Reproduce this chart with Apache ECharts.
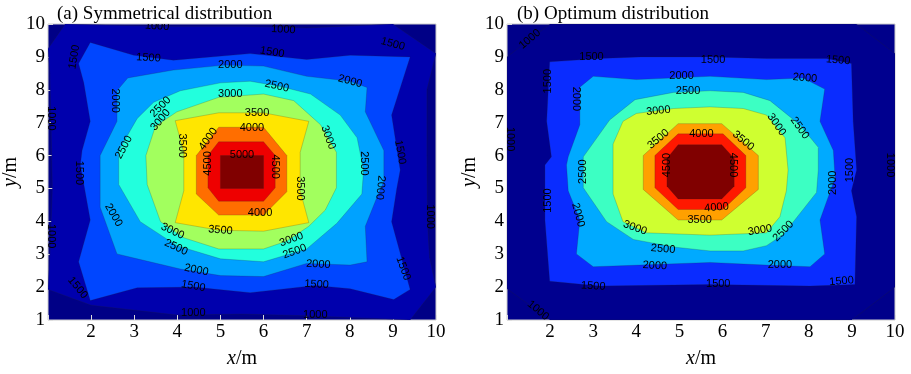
<!DOCTYPE html>
<html>
<head>
<meta charset="utf-8">
<script src="https://cdn.jsdelivr.net/npm/echarts@6/dist/echarts.min.js"></script>
<style>
  html, body { margin: 0; padding: 0; background: #fff; }
  #chart { width: 911px; height: 374px; }
</style>
</head>
<body>
<div id="chart"></div>
<script>
// contour levels shared by both panels
const levels = [1000, 1500, 2000, 2500, 3000, 3500, 4000, 4500, 5000]
const axisTicks = [1, 2, 3, 4, 5, 6, 7, 8, 9, 10]

// (a) symmetrical distribution: closed contour outlines, [x/m, y/m]
const symC1000 = [[1.0, 9.25], [1.4, 10], [3.5, 9.93], [5.5, 9.93], [7.0, 9.88], [9.0, 10], [10, 9.1], [9.79, 8.0], [9.79, 6.0], [9.8, 4.0], [9.85, 2.9], [10, 2.0], [9.4, 1.0], [7.0, 1.13], [5.5, 1.18], [4.0, 1.15], [2.0, 1.45], [1.0, 1.93], [1.06, 3.5], [1.1, 5.0], [1.07, 7.0], [1.04, 8.5]]
const symC1500 = [[1.98, 9.44], [2.99, 9.05], [3.91, 8.9], [5.69, 9.1], [7.0, 8.92], [8.01, 9.05], [9.4, 9.0], [8.97, 7.23], [9.17, 5.56], [9.09, 5.0], [8.97, 3.99], [9.4, 1.93], [9.02, 1.62], [8.01, 1.95], [7.2, 2.05], [5.69, 1.83], [4.4, 2.0], [3.07, 1.98], [1.98, 1.59], [1.71, 2.77], [1.98, 4.04], [1.75, 5.71], [1.79, 6.15], [1.98, 7.04], [1.83, 8.21], [1.71, 8.8]]
const symC2000 = [[2.85, 8.36], [3.91, 8.6], [5.1, 8.75], [6.0, 8.72], [7.0, 8.41], [8.01, 8.26], [8.4, 8.07], [8.36, 7.33], [8.79, 6.15], [8.79, 5.2], [8.63, 4.73], [8.36, 3.85], [8.4, 2.77], [8.01, 2.67], [7.0, 2.72], [6.0, 2.32], [5.0, 2.35], [4.07, 2.55], [3.07, 2.86], [2.6, 3.01], [2.21, 4.43], [2.21, 6.0], [2.6, 7.04], [2.6, 7.97]]
const symC2500 = [[2.64, 6.15], [3.07, 7.13], [3.45, 7.62], [4.07, 7.97], [5.0, 8.21], [5.69, 8.26], [6.4, 8.1], [7.09, 7.87], [7.78, 7.23], [8.17, 6.54], [8.32, 5.56], [8.28, 4.83], [7.7, 3.94], [7.0, 3.16], [6.0, 2.77], [5.0, 2.86], [3.99, 3.26], [3.14, 3.99], [2.64, 5.12]]
const symC3000 = [[3.27, 6.0], [3.49, 6.89], [3.99, 7.33], [4.96, 7.77], [6.0, 7.87], [6.7, 7.67], [7.32, 6.94], [7.69, 6.1], [7.69, 5.02], [7.43, 4.34], [7.05, 3.85], [6.54, 3.4], [6.0, 3.16], [4.96, 3.16], [4.15, 3.5], [3.61, 3.99], [3.3, 5.12]]
const symC3500 = [[3.95, 7.06], [4.96, 7.3], [6.0, 7.3], [7.05, 7.04], [6.85, 6.1], [6.85, 4.93], [7.05, 3.96], [6.0, 3.7], [4.96, 3.73], [3.95, 3.96], [4.15, 4.93], [4.15, 6.1]]
const symC4000 = [[4.96, 6.86], [6.0, 6.86], [6.54, 6.0], [6.54, 4.9], [6.0, 4.19], [4.96, 4.19], [4.44, 4.83], [4.44, 6.0]]
const symC4500 = [[4.96, 6.42], [6.0, 6.42], [6.27, 6.0], [6.27, 5.02], [6.0, 4.61], [4.96, 4.61], [4.71, 5.02], [4.71, 6.0]]
const symC5000 = [[5.0, 5.0], [6.0, 5.0], [6.0, 6.0], [5.0, 6.0]]

// (b) optimum distribution
const optC1000 = [[1.0, 9.0], [2.0, 10], [9.1, 10], [10, 9.1], [10, 2.0], [9.0, 1.0], [2.0, 1.0], [1.0, 1.95]]
const optC1500 = [[1.99, 8.85], [3.15, 8.95], [4.08, 9.0], [5.71, 9.0], [7.02, 8.95], [8.41, 8.95], [8.99, 8.8], [9.03, 7.04], [9.11, 5.56], [8.99, 4.93], [9.11, 4.14], [9.07, 2.08], [8.03, 2.03], [5.71, 2.08], [3.15, 2.03], [1.99, 2.18], [1.88, 4.04], [1.88, 5.71], [2.03, 5.96], [1.92, 7.04]]
const optC2000 = [[2.69, 8.08], [3.0, 8.41], [4.0, 8.31], [5.71, 8.41], [7.02, 8.31], [7.87, 8.36], [8.37, 8.02], [8.26, 7.04], [8.57, 6.15], [8.61, 5.32], [8.26, 4.04], [8.37, 3.01], [8.03, 2.62], [7.0, 2.67], [5.71, 2.75], [4.08, 2.67], [3.0, 2.62], [2.61, 3.01], [2.69, 4.04], [2.42, 4.93], [2.38, 5.71], [2.42, 5.96], [2.69, 6.94]]
const optC2500 = [[2.77, 5.96], [3.38, 7.08], [3.97, 7.7], [4.86, 7.92], [5.71, 7.97], [6.48, 7.92], [7.1, 7.67], [7.79, 6.94], [8.22, 6.25], [8.22, 5.56], [8.18, 4.88], [7.41, 3.6], [7.02, 3.26], [6.48, 3.1], [5.71, 3.1], [4.86, 3.22], [3.93, 3.45], [3.31, 3.99], [2.77, 5.02]]
const optC3000 = [[3.46, 6.35], [3.69, 7.04], [4.0, 7.28], [4.86, 7.43], [5.71, 7.48], [6.48, 7.43], [7.02, 7.23], [7.45, 6.54], [7.52, 5.56], [7.48, 4.93], [7.33, 4.14], [7.02, 3.65], [5.71, 3.58], [4.23, 3.65], [3.69, 3.99], [3.46, 4.83]]
const optC3500 = [[4.97, 6.97], [5.98, 6.97], [6.83, 6.0], [6.83, 4.97], [5.98, 4.04], [4.97, 4.04], [4.16, 4.97], [4.16, 6.0]]
const optC4000 = [[4.97, 6.66], [6.01, 6.66], [6.54, 6.0], [6.54, 5.02], [6.01, 4.36], [4.97, 4.36], [4.43, 5.02], [4.43, 6.0]]
const optC4500 = [[4.97, 6.33], [5.98, 6.33], [6.27, 5.91], [6.27, 5.07], [5.98, 4.68], [4.97, 4.68], [4.71, 5.07], [4.71, 5.91]]

// contour labels: [level, x, y, angle]
const symLabels = [
  [1000, 3.53, 9.93, -4], [1000, 6.46, 9.83, -3], [1500, 3.33, 8.97, -3], [1500, 6.2, 9.14, -10],
  [1500, 9.0, 9.39, -15], [1500, 1.61, 9.0, 80], [2000, 5.23, 8.75, 0], [2500, 6.31, 8.11, -12],
  [2000, 8.01, 8.26, -15], [3000, 5.23, 7.87, 0], [3500, 5.85, 7.3, 0], [4000, 5.73, 6.84, 0],
  [5000, 5.5, 6.02, 0], [2000, 2.56, 7.67, -90], [2500, 3.61, 7.48, 45], [3000, 3.61, 7.08, 50],
  [1000, 1.08, 7.13, -90], [2500, 2.76, 6.25, 62], [3500, 4.11, 6.3, -90], [4000, 4.72, 6.5, 55],
  [4500, 4.72, 5.76, 90], [1500, 1.71, 5.47, -90], [4500, 6.27, 5.66, -90], [3000, 7.5, 6.55, -70],
  [2500, 8.32, 5.76, -90], [1500, 9.17, 6.1, -80], [3500, 6.85, 5.0, -90], [2000, 8.71, 5.02, -95],
  [1000, 9.87, 4.14, -90], [2000, 2.52, 4.19, -60], [1000, 1.06, 3.55, -90], [4000, 5.92, 4.24, 0],
  [3500, 5.0, 3.73, -5], [3000, 3.89, 3.7, -25], [2500, 3.97, 3.21, -25], [3000, 6.65, 3.45, 20],
  [2500, 6.72, 3.08, 20], [2000, 4.44, 2.52, -12], [2000, 7.27, 2.69, -3], [1500, 4.37, 2.03, -10],
  [1500, 7.23, 2.08, -3], [1500, 1.69, 1.98, -50], [1500, 9.24, 2.57, -70], [1000, 4.37, 1.2, 0],
  [1000, 7.2, 1.15, 0]
]
const optLabels = [
  [1000, 1.53, 9.54, 40], [1500, 2.96, 9.0, 0], [1500, 5.78, 8.92, 0], [1500, 8.68, 8.9, -5],
  [1500, 1.95, 8.26, 90], [2000, 2.61, 7.72, -90], [2000, 5.05, 8.43, 0], [2000, 7.91, 8.36, -5],
  [2500, 5.2, 7.95, 0], [3000, 4.51, 7.36, 5], [1000, 1.06, 6.5, -90], [4000, 5.51, 6.67, 0],
  [3500, 4.51, 6.5, 40], [3500, 6.48, 6.45, -40], [3000, 7.25, 6.94, -55], [2500, 7.79, 6.84, -55],
  [2500, 2.77, 5.51, 90], [4500, 4.7, 5.71, 90], [4500, 6.25, 5.71, -90], [1000, 9.88, 5.71, -90],
  [1500, 8.95, 5.56, 90], [2000, 8.57, 5.17, 90], [1500, 1.95, 4.63, 90], [2000, 2.65, 4.19, -75],
  [4000, 5.86, 4.42, 5], [3500, 5.47, 4.04, 0], [3000, 3.97, 3.8, -20], [3000, 6.87, 3.73, 10],
  [2500, 7.41, 3.7, 45], [2500, 4.62, 3.16, -5], [2000, 4.43, 2.65, -3], [2000, 7.33, 2.67, 0],
  [1500, 3.0, 2.03, -3], [1500, 5.9, 2.1, 0], [1500, 8.76, 2.18, 5], [1000, 1.72, 1.29, -40]
]

const symBands = [symC1000, symC1500, symC2000, symC2500, symC3000, symC3500, symC4000, symC4500, symC5000]
const optBands = [optC1000, optC1500, optC2000, optC2500, optC3000, optC3500, optC4000, optC4500]

// jet-like fills for each band (value above the level)
const symColors = ['#0000ad', '#0046ff', '#00a2ff', '#22ffdd', '#a2ff5e', '#ffe600', '#ff6e00', '#ee0000', '#800000']
const optColors = ['#00008f', '#0a2cff', '#00aaff', '#3cffc3', '#cfff30', '#ffa000', '#ff1800', '#800000']
const symBg = '#000086'
const optBg = '#00008a'

const serif = 'Liberation Serif, Times New Roman, serif'
const chart = echarts.init(document.getElementById('chart'))

const bandSeries = (idx, bands, colors) => ({
  type: 'custom',
  xAxisIndex: idx,
  yAxisIndex: idx,
  clip: true,
  silent: true,
  data: bands.map((b, i) => [i]),
  renderItem: (params, api) => {
    const i = api.value(0)
    const pts = bands[i].map(p => api.coord(p))
    return {
      type: 'polygon',
      shape: { points: pts },
      style: { fill: colors[i], stroke: 'rgba(40,40,40,0.35)', lineWidth: 0.6 }
    }
  }
})

const labelSeries = (idx, labels) => ({
  type: 'custom',
  xAxisIndex: idx,
  yAxisIndex: idx,
  clip: true,
  silent: true,
  encode: { x: 1, y: 2 },
  data: labels,
  renderItem: (params, api) => {
    const p = api.coord([api.value(1), api.value(2)])
    return {
      type: 'text',
      x: p[0],
      y: p[1],
      rotation: api.value(3) * Math.PI / 180,
      style: {
        text: String(api.value(0)),
        fill: '#000',
        font: '11px "Liberation Sans", Arial, sans-serif',
        align: 'center',
        verticalAlign: 'middle'
      }
    }
  }
})

const nameStyle = {
  fontFamily: serif,
  fontSize: 20,
  color: '#000',
  rich: { i: { fontFamily: serif, fontSize: 20, fontStyle: 'italic', color: '#000' } }
}

const makeX = (idx) => ({
  gridIndex: idx,
  type: 'value',
  min: 1,
  max: 10,
  interval: 1,
  name: '{i|x}/m',
  nameLocation: 'middle',
  nameGap: 29,
  nameTextStyle: nameStyle,
  axisLine: { show: false },
  axisTick: { show: true, inside: true, length: 5, lineStyle: { color: '#ddd' } },
  splitLine: { show: false },
  axisLabel: { margin: 3, fontFamily: serif, fontSize: 19, color: '#000', formatter: v => (v === axisTicks[0] ? '' : v) }
})

const makeY = (idx) => ({
  gridIndex: idx,
  type: 'value',
  min: 1,
  max: 10,
  interval: 1,
  name: '{i|y}/m',
  nameLocation: 'middle',
  nameGap: 27,
  nameTextStyle: nameStyle,
  axisLine: { show: false },
  axisTick: { show: true, inside: true, length: 5, lineStyle: { color: '#ddd' } },
  splitLine: { show: false },
  axisLabel: { margin: 3, fontFamily: serif, fontSize: 19, color: '#000' }
})

const option = {
  animation: false,
  backgroundColor: '#fff',
  title: [
    { text: '(a) Symmetrical distribution', left: 52, top: 0, textStyle: { fontFamily: serif, fontSize: 19, fontWeight: 'normal', color: '#000' } },
    { text: '(b) Optimum distribution', left: 512, top: 0, textStyle: { fontFamily: serif, fontSize: 19, fontWeight: 'normal', color: '#000' } }
  ],
  grid: [
    { left: 48, top: 24, width: 388, height: 306, show: true, backgroundColor: symBg, borderColor: '#ccc', borderWidth: 1 },
    { left: 507, top: 24, width: 388, height: 306, show: true, backgroundColor: optBg, borderColor: '#ccc', borderWidth: 1 }
  ],
  xAxis: [makeX(0), makeX(1)],
  yAxis: [makeY(0), makeY(1)],
  series: [
    bandSeries(0, symBands, symColors),
    bandSeries(1, optBands, optColors),
    labelSeries(0, symLabels),
    labelSeries(1, optLabels)
  ]
}

chart.setOption(option)
</script>
</body>
</html>
